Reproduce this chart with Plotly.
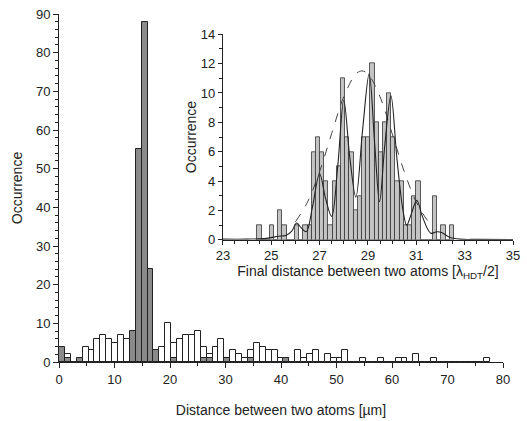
import plotly.graph_objects as go

# ---------------- data ----------------
main_bin_width = 1.064  # µm
main_white = [0, 2, 0, 0, 4, 3, 6, 7, 6, 5, 7, 6, 0, 0, 0, 0, 0, 4, 10, 5,
              6, 7, 7, 8, 4, 2, 4, 6, 1, 3, 2, 1, 3, 5, 4, 3, 3, 1, 1, 0,
              3, 1, 2, 3, 0, 2, 1, 1, 3, 0, 0, 1, 0, 0, 1, 0, 0, 1, 1, 0,
              2, 0, 0, 1, 0, 0, 0, 0, 0, 0, 0, 0, 1]
main_dark = [4, 1, 0, 1, 0, 0, 0, 0, 0, 0, 0, 0, 8, 55, 88, 24, 3, 0, 0, 1,
             0, 0, 0, 0, 1, 1, 0, 0, 1, 0, 0, 0, 1, 0, 0, 0, 0, 0, 1]

inset_start = 24.42
inset_bin_width = 0.1731
inset_counts = [1, 0, 0, 1, 0, 2, 1, 0, 0, 1, 0, 1, 1, 6, 7, 6, 4, 1, 4, 5,
                11, 7, 6, 2, 3, 7, 7, 12, 8, 6, 8, 10, 7, 4, 4, 1, 1, 3, 4, 0,
                0, 0, 3, 0, 1, 0, 1]

# multi-peak fit curve
fit_x = [23.0, 24.0, 24.8, 25.3, 25.6, 25.85, 26.05, 26.25, 26.45, 26.7, 27.0,
         27.25, 27.5, 27.75, 28.0, 28.25, 28.5, 28.78, 29.05, 29.28, 29.48,
         29.7, 29.95, 30.2, 30.45, 30.6, 30.8, 31.02, 31.25, 31.6, 31.85,
         32.05, 32.35, 32.8, 33.5, 35.0]
fit_y = [0.05, 0.05, 0.1, 0.25, 0.3, 0.6, 1.15, 0.8, 0.55, 2.2, 4.5,
         2.8, 1.6, 5.0, 9.5, 5.6, 2.9, 7.5, 11.3, 6.5, 2.6,
         6.5, 9.8, 5.5, 2.0, 1.0, 1.8, 2.7, 1.6, 0.45, 0.55,
         0.5, 0.2, 0.05, 0.03, 0.02]

# envelope (dashed) points
env_x = [26.0, 26.5, 27.0, 27.5, 28.0, 28.5, 28.75, 29.0, 29.5, 30.0, 30.5, 31.0, 31.5, 31.7]
env_y = [1.23, 2.57, 4.65, 7.24, 9.74, 11.29, 11.5, 11.29, 9.74, 7.24, 4.65, 2.57, 1.23, 0.88]

main_x_ticks = [0, 10, 20, 30, 40, 50, 60, 70, 80]
inset_x_ticks = [23, 25, 27, 29, 31, 33, 35]

# ---------------- figure ----------------
font_family = "Liberation Sans, Arial, sans-serif"

mx_w = [(i + 0.5) * main_bin_width for i in range(len(main_white))]
mx_d = [(i + 0.5) * main_bin_width for i in range(len(main_dark))]
ix = [inset_start + (k + 0.5) * inset_bin_width for k in range(len(inset_counts))]

fig = go.Figure()
fig.add_trace(go.Bar(x=mx_w, y=main_white, width=main_bin_width,
                     marker=dict(color="white", line=dict(color="#222", width=1)),
                     xaxis="x", yaxis="y", showlegend=False))
fig.add_trace(go.Bar(x=mx_d, y=main_dark, width=main_bin_width,
                     marker=dict(color="#8a8a8a", line=dict(color="#222", width=1)),
                     xaxis="x", yaxis="y", showlegend=False))
fig.add_trace(go.Bar(x=ix, y=inset_counts, width=inset_bin_width,
                     marker=dict(color="#c4c4c4", line=dict(color="#333", width=0.8)),
                     xaxis="x2", yaxis="y2", showlegend=False))
fig.add_trace(go.Scatter(x=env_x, y=env_y, mode="lines", line_shape="spline",
                         line=dict(color="#444", width=1, dash="dash"),
                         xaxis="x2", yaxis="y2", showlegend=False))
fig.add_trace(go.Scatter(x=fit_x, y=fit_y, mode="lines", line_shape="spline",
                         line=dict(color="#222", width=1.1),
                         xaxis="x2", yaxis="y2", showlegend=False))

axis_common = dict(showgrid=False, zeroline=False, showline=True, linecolor="#222",
                   linewidth=1, ticks="outside", tickcolor="#222", mirror=False,
                   automargin=False,
                   tickfont=dict(family=font_family, size=13, color="#222"))

fig.update_layout(
    width=527, height=421,
    margin=dict(l=59, r=14, t=14, b=59, autoexpand=False),
    paper_bgcolor="white", plot_bgcolor="rgba(0,0,0,0)",
    barmode="overlay", bargap=0,
    font=dict(family=font_family, color="#222"),
    xaxis=dict(domain=[0, 0.978], range=[0, 80], tickvals=main_x_ticks,
               ticklen=5, minor=dict(dtick=5, ticklen=3, ticks="outside", tickcolor="#222"),
               title=dict(text="Distance between two atoms [µm]",
                          font=dict(family=font_family, size=14), standoff=19),
               anchor="y", **axis_common),
    yaxis=dict(domain=[0, 1], range=[0, 90], dtick=10, ticklen=5,
               minor=dict(dtick=2, ticklen=3, ticks="outside", tickcolor="#222"),
               title=dict(text="Occurrence", font=dict(family=font_family, size=14), standoff=10),
               anchor="x", **axis_common),
    xaxis2=dict(domain=[0.361, 1], range=[23, 35], tickvals=inset_x_ticks,
                ticklen=4, minor=dict(dtick=0.5, ticklen=3, ticks="outside", tickcolor="#222"),
                title=dict(text="Final distance between two atoms [λ<sub>HDT</sub>/2]",
                           font=dict(family=font_family, size=14), standoff=2),
                anchor="y2", **axis_common),
    yaxis2=dict(domain=[0.351, 0.942], range=[0, 14], dtick=2, ticklen=4,
                minor=dict(dtick=1, ticklen=3, ticks="outside", tickcolor="#222"),
                title=dict(text="Occurrence", font=dict(family=font_family, size=14), standoff=0),
                anchor="x2", **axis_common),
)

fig.write_html("out.html", config={"displayModeBar": False},
               post_script="document.body.style.margin='0';document.body.style.overflow='hidden';")
